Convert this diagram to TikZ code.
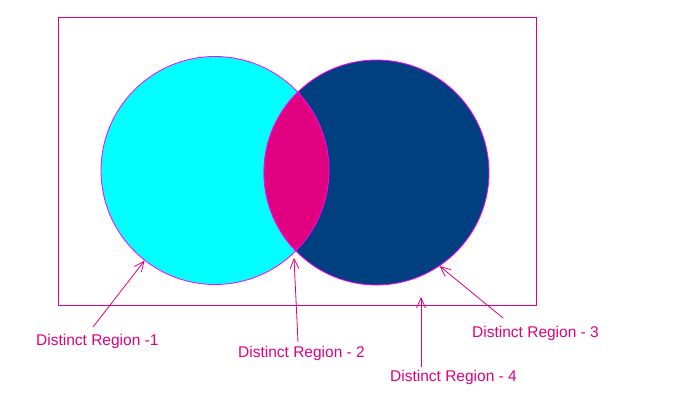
\documentclass[tikz,border=0pt]{standalone}
\usepackage{fontspec}
\setmainfont{Liberation Sans}
\usetikzlibrary{arrows.meta}
\definecolor{rimpink}{RGB}{255,0,255}
\definecolor{linepink}{RGB}{224,0,128}
\definecolor{setcyan}{RGB}{0,255,255}
\definecolor{setnavy}{RGB}{0,64,128}
\definecolor{lensmag}{RGB}{224,0,128}
\begin{document}
\begin{tikzpicture}[x=1pt,y=-1pt,
  setcircle/.style={circle, inner sep=0pt, draw=rimpink, line width=0.8pt},
  regionlabel/.style={text=linepink, font=\fontsize{15.5}{18}\selectfont, inner sep=0pt, anchor=base west},
  pointer/.style={draw=linepink, line width=0.8pt, -{Straight Barb[length=10pt,width=9pt]}}]
\useasboundingbox (0,0) rectangle (682,418);

% universal set
\node[draw=linepink, line width=1pt, minimum width=478pt, minimum height=288.5pt, inner sep=0pt] (universe) at (297,161.25) {};

% the two sets
\node[setcircle, fill=setcyan, minimum size=228pt] (c1) at (215,170.5) {};
\node[setcircle, fill=setnavy, minimum size=225pt] (c2) at (376.5,172.5) {};

% intersection lens
\begin{scope}
  \clip (215,170.5) circle[radius=114pt];
  \fill[lensmag] (376.5,172.5) circle[radius=112.5pt];
  \draw[rimpink, line width=0.8pt] (376.5,172.5) circle[radius=112.5pt];
\end{scope}
\begin{scope}
  \clip (376.5,172.5) circle[radius=112.5pt];
  \draw[rimpink, line width=0.8pt] (215,170.5) circle[radius=114pt];
\end{scope}

% labels
\node[regionlabel] (t1) at (36,345) {Distinct Region -1};
\node[regionlabel] (t2) at (238,357.5) {Distinct Region - 2};
\node[regionlabel] (t3) at (472,337.3) {Distinct Region - 3};
\node[regionlabel] (t4) at (390,381.7) {Distinct Region - 4};

% pointer ends
\coordinate (a1) at (93,327);
\coordinate (a2) at (298,342);
\coordinate (a3) at (503,318);
\coordinate (a4) at (421,367);
\coordinate (p2) at (294,258);
\coordinate (p4) at (421,297);

\draw[pointer] (a1) -- (c1.232);
\draw[pointer] (a2) -- (p2);
\draw[pointer] (a3) -- (c2.304);
\draw[pointer] (a4) -- (p4);
\end{tikzpicture}
\end{document}
